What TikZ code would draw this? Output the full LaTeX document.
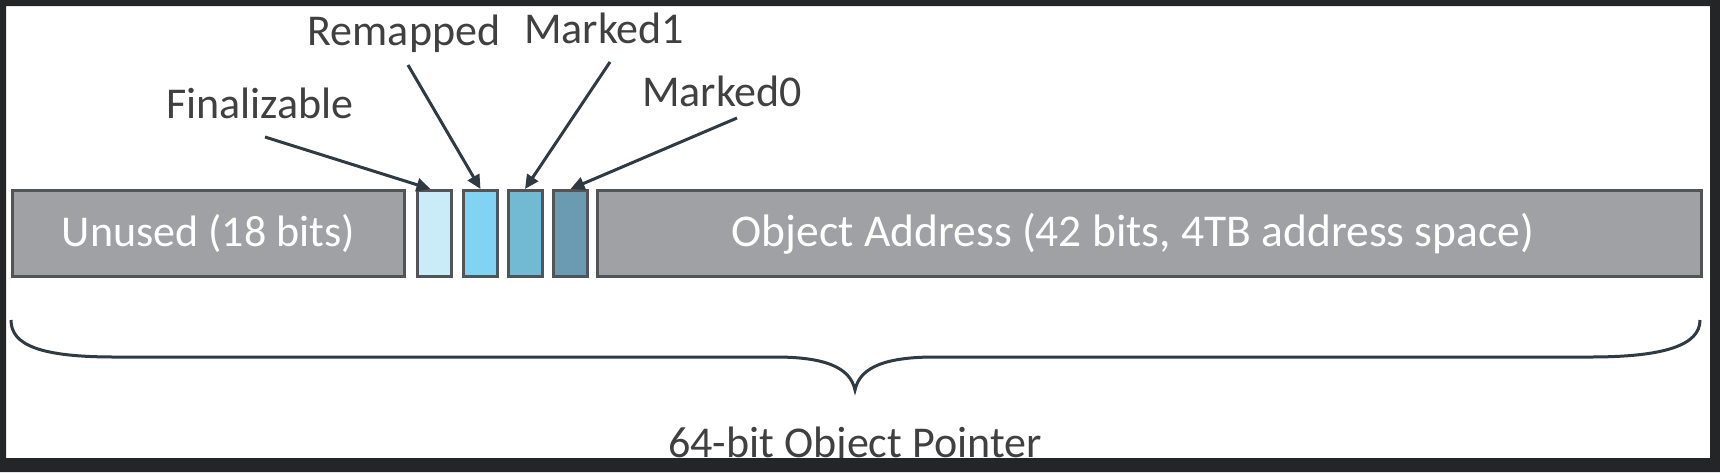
\documentclass[tikz,border=0pt]{standalone}
\usepackage{fontspec}
\setmainfont{Carlito}
\usetikzlibrary{arrows.meta}
\definecolor{frame}{RGB}{36,37,39}
\definecolor{boxgray}{RGB}{160,161,164}
\definecolor{boxline}{RGB}{82,84,87}
\definecolor{bitA}{RGB}{201,236,248}
\definecolor{bitB}{RGB}{128,211,242}
\definecolor{bitC}{RGB}{114,185,211}
\definecolor{bitD}{RGB}{106,155,176}
\definecolor{labeltext}{RGB}{64,64,64}
\definecolor{arrowcol}{RGB}{47,58,66}
\tikzset{
  field/.style={draw=boxline, line width=3pt, fill=boxgray, minimum height=86pt, inner sep=0pt,
    text=white, font=\fontsize{44}{52}\selectfont},
  bitbox/.style={draw=boxline, line width=3pt, minimum height=86pt, minimum width=34pt, inner sep=0pt},
  lbl/.style={text=labeltext, font=\fontsize{44}{52}\selectfont, anchor=base, inner sep=0pt},
  arr/.style={draw=arrowcol, line width=3pt, -{Triangle[length=14pt,width=13pt]}},
  brace/.style={draw=arrowcol, line width=3pt}
}
\begin{document}
\begin{tikzpicture}[x=1pt,y=-1pt]
\useasboundingbox (0,0) rectangle (1720,472);
\fill[white] (0,0) rectangle (1720,472);
% fields
\node[field, minimum width=392pt] (unused) at (208.5,233.5) {Unused (18 bits)};
\node[bitbox, fill=bitA] (fin) at (434.5,233.5) {};
\node[bitbox, fill=bitB] (rem) at (480.5,233.5) {};
\node[bitbox, fill=bitC] (mk1) at (525,233.5) {};
\node[bitbox, fill=bitD] (mk0) at (570.5,233.5) {};
\node[field, minimum width=1104pt] (addr) at (1149.5,233.5) {};
\node[text=white, font=\fontsize{45.5}{54}\selectfont, inner sep=0pt] (addrtext) at (1133,233.5) {Object Address (42 bits, 4TB address space)};
% labels
\node[lbl] (lfin) at (260,118) {Finalizable};
\node[lbl] (lrem) at (404,45) {Remapped};
\node[lbl] (lmk1) at (604,43) {Marked1};
\node[lbl] (lmk0) at (722,106) {Marked0};
% arrow starts
\coordinate (sfin) at (265,137);
\coordinate (srem) at (408,65);
\coordinate (smk1) at (610,62);
\coordinate (smk0) at (737,118);
\draw[arr] (sfin) -- ([xshift=-4pt]fin.north);
\draw[arr] (srem) -- (rem.north);
\draw[arr] (smk1) -- (mk1.north);
\draw[arr] (smk0) -- (mk0.north);
% brace
\coordinate (bl) at (11,320);
\coordinate (bt) at (855,390);
\coordinate (br) at (1700,320);
\draw[brace] (bl) .. controls (11,345) and (40,357) .. (115,357) -- (775,357)
  .. controls (822,357) and (850,366) .. (bt)
  .. controls (860,366) and (888,357) .. (935,357) -- (1590,357)
  .. controls (1665,357) and (1700,345) .. (br);
\node[lbl] (ptr) at (855,457) {64-bit Object Pointer};
% outer dark frame
\fill[frame, even odd rule] (0,0) rectangle (1720,472) (6,6) rectangle (1710,458);
\end{tikzpicture}
\end{document}
